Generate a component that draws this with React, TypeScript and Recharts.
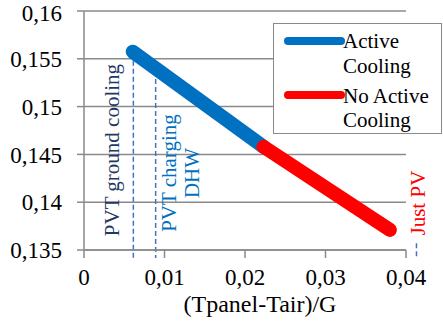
import { LineChart, Line, XAxis, YAxis, CartesianGrid, ReferenceLine, Legend } from "recharts";

const FONT = "Liberation Serif, Times New Roman, serif";
const GRAY = "#8a8a8a";

const xTicks = [0, 0.01, 0.02, 0.03, 0.04];
const yTicks = [0.135, 0.14, 0.145, 0.15, 0.155, 0.16];

const activeCooling = [
  { x: 0.00605, y: 0.15574 },
  { x: 0.0223, y: 0.1458 },
];
const noActiveCooling = [
  { x: 0.0223, y: 0.1458 },
  { x: 0.038, y: 0.1371 },
];

// marker lines: x position, top y, bottom y (below the axis)
const groundCoolingLine = [
  { x: 0.00613, y: 0.1548 },
  { x: 0.00613, y: 0.13416 },
];
const chargingDhwLine = [
  { x: 0.0089, y: 0.1529 },
  { x: 0.0089, y: 0.13416 },
];
const justPvLine = [
  { x: 0.0413, y: 0.1357 },
  { x: 0.0413, y: 0.13426 },
];

const comma = (v: number) => String(v).replace(".", ",");

const rotatedLabel =
  (lines: string[], color: string, dx: number, dyFromBottom: number) => (props: any) => {
    const vb = props.viewBox || {};
    const x = vb.x + dx;
    const y = vb.y + vb.height + dyFromBottom;
    return (
      <text
        transform={`rotate(-90 ${x} ${y})`}
        x={x}
        y={y}
        fill={color}
        style={{ fontFamily: FONT }}
        fontSize={21}
        textAnchor="middle"
      >
        {lines.map((l, i) => (
          <tspan key={l} x={x} dy={i === 0 ? 0 : 23}>
            {l}
          </tspan>
        ))}
      </text>
    );
  };

const renderLegend = () => (
  <div
    style={{
      width: 169,
      height: 111,
      border: `1.5px solid ${GRAY}`,
      boxSizing: "border-box",
      background: "#fff",
      fontFamily: FONT,
    }}
  >
    <svg width={166} height={108} style={{ display: "block" }}>
      <line x1={14} y1={17} x2={67} y2={17} stroke="#0070C0" strokeWidth={8} strokeLinecap="round" />
      <text x={69} y={24} fontSize={21} fill="#000">Active</text>
      <text x={69} y={49} fontSize={21} fill="#000">Cooling</text>
      <line x1={14} y1={71} x2={67} y2={71} stroke="#FF0000" strokeWidth={8} strokeLinecap="round" />
      <text x={69} y={79} fontSize={21} fill="#000">No Active</text>
      <text x={69} y={103} fontSize={21} fill="#000">Cooling</text>
    </svg>
  </div>
);

export default function App() {
  return (
    <div style={{ position: "absolute", left: 0, top: 0, background: "#fff", fontFamily: FONT }}>
      <LineChart width={443} height={322} margin={{ top: 11, right: 37, bottom: 0, left: 0 }} style={{ fontFamily: FONT }}>
        <CartesianGrid horizontal vertical={false} stroke={GRAY} strokeWidth={1.5} />
        <XAxis
          type="number"
          dataKey="x"
          domain={[0, 0.04]}
          ticks={xTicks}
          tickFormatter={comma}
          height={72}
          tickSize={8}
          tickMargin={11}
          stroke={GRAY}
          strokeWidth={1.5}
          tick={{ fill: "#000", fontSize: 23 }}
          allowDataOverflow
          label={{
            value: "(Tpanel-Tair)/G",
            position: "insideBottom",
            offset: 10,
            dx: 15,
            fill: "#000",
            fontSize: 24,
          }}
        />
        <YAxis
          type="number"
          dataKey="y"
          domain={[0.135, 0.16]}
          ticks={yTicks}
          tickFormatter={comma}
          width={84}
          tickSize={7}
          tickMargin={15}
          stroke={GRAY}
          strokeWidth={1.5}
          tick={{ fill: "#000", fontSize: 23 }}
          allowDataOverflow
        />
        <ReferenceLine
          segment={groundCoolingLine}
          stroke="#4472C4"
          strokeWidth={1.5}
          strokeDasharray="5 3"
          ifOverflow="visible"
          label={rotatedLabel(["PVT ground cooling"], "#1F3864", -14, -108)}
        />
        <ReferenceLine
          segment={chargingDhwLine}
          stroke="#4472C4"
          strokeWidth={1.5}
          strokeDasharray="5 3"
          ifOverflow="visible"
          label={rotatedLabel(["PVT charging", "DHW"], "#0070C0", 20, -85)}
        />
        <ReferenceLine
          segment={justPvLine}
          stroke="#4472C4"
          strokeWidth={1.5}
          strokeDasharray="5 3"
          ifOverflow="visible"
          label={rotatedLabel(["Just PV"], "#FF0000", 9, -54)}
        />
        <Line
          data={activeCooling}
          dataKey="y"
          name="Active Cooling"
          type="linear"
          stroke="#0070C0"
          strokeWidth={14}
          strokeLinecap="round"
          dot={false}
          activeDot={false}
          isAnimationActive={false}
        />
        <Line
          data={noActiveCooling}
          dataKey="y"
          name="No Active Cooling"
          type="linear"
          stroke="#FF0000"
          strokeWidth={14}
          strokeLinecap="round"
          dot={false}
          activeDot={false}
          isAnimationActive={false}
        />
        <Legend
          layout="horizontal"
          verticalAlign="middle"
          align="center"
          content={renderLegend}
          wrapperStyle={{ left: 273, top: 23, width: 169, height: 111 }}
        />
      </LineChart>
    </div>
  );
}
